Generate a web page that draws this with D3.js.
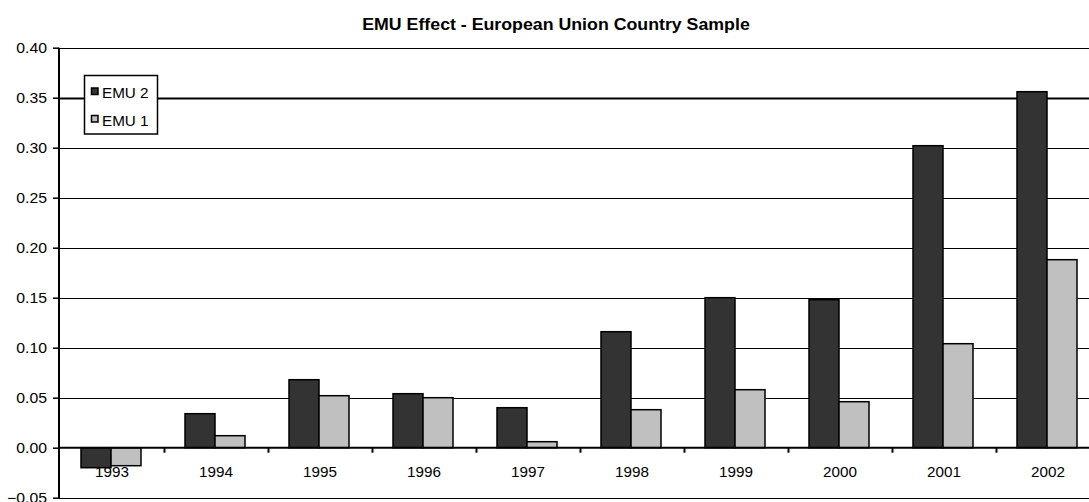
<!DOCTYPE html>
<html><head><meta charset="utf-8">
<script src="https://cdn.jsdelivr.net/npm/d3@7"></script>
<style>body{margin:0;background:#fff}svg{display:block}text{font-family:"Liberation Sans",Arial,sans-serif}</style>
</head><body>
<svg id="c" width="1089" height="502"></svg>
<script>
const categories = ["1993","1994","1995","1996","1997","1998","1999","2000","2001","2002"];
const emu2 = [-0.020,0.034,0.068,0.054,0.040,0.116,0.150,0.148,0.302,0.356];
const emu1 = [-0.018,0.012,0.052,0.050,0.006,0.038,0.058,0.046,0.104,0.188];
const seriesNames = ["EMU 2","EMU 1"];
const seriesColors = ["#333333","#c0c0c0"];
const yTicks = [-0.05,0,0.05,0.10,0.15,0.20,0.25,0.30,0.35,0.40];
const title = "EMU Effect - European Union Country Sample";

const svg = d3.select("#c");
const x0 = 59, x1 = 1099;
const x = d3.scaleBand().domain(categories).range([x0, x1]).paddingInner(0).paddingOuter(0);
const y = d3.scaleLinear().domain([-0.05,0.40]).range([497.7,47.7]);
const SX = 1.09;

// gridlines
svg.append("g").selectAll("line").data(yTicks.filter(d=>d!==0)).join("line")
  .attr("x1",x0).attr("x2",1089)
  .attr("y1",d=>Math.round(y(d))+0.5).attr("y2",d=>Math.round(y(d))+0.5)
  .attr("stroke","#000").attr("stroke-width",d=>Math.abs(d-0.35)<1e-9?2:1);

// bars
const bw = 30;
[emu2, emu1].forEach((vals,si)=>{
  svg.append("g").selectAll("rect").data(vals).join("rect")
    .attr("x",(d,i)=>x(categories[i]) + x.bandwidth()/2 - bw + si*bw)
    .attr("width",bw)
    .attr("y",d=>Math.min(y(d),y(0)))
    .attr("height",d=>Math.abs(y(d)-y(0)))
    .attr("fill",seriesColors[si]).attr("stroke","#000").attr("stroke-width",1.5);
});

// x axis at zero
svg.append("line").attr("x1",x0).attr("x2",1089).attr("y1",y(0)).attr("y2",y(0)).attr("stroke","#000").attr("stroke-width",2);
svg.append("g").selectAll("line").data(categories.slice(1)).join("line")
  .attr("x1",d=>x(d)+1.5).attr("x2",d=>x(d)+1.5).attr("y1",y(0)).attr("y2",y(0)+5)
  .attr("stroke","#000").attr("stroke-width",2);
svg.append("g").selectAll("text").data(categories).join("text")
  .attr("transform",d=>`translate(${x(d)+x.bandwidth()/2+1},477) scale(${SX},1)`)
  .attr("text-anchor","middle").attr("font-size",14).attr("fill","#000").text(d=>d);

// y axis
const yAxis = d3.axisLeft(y).tickValues(yTicks).tickFormat("").tickSize(6);
const ga = svg.append("g").attr("transform",`translate(${x0},0)`).call(yAxis);
ga.select(".domain").attr("stroke-width",2).attr("d",`M0,${y(0.40)}V${y(-0.05)+0.5}`);
ga.selectAll(".tick line").attr("stroke-width",1.5);
svg.append("g").selectAll("text").data(yTicks).join("text")
  .attr("transform",d=>`translate(47,${y(d)+5.3}) scale(${SX},1)`)
  .attr("text-anchor","end").attr("font-size",14.5).attr("fill","#000").text(d=>d3.format(".2f")(d));

// title
svg.append("text").attr("transform",`translate(556,30) scale(1.11,1)`).attr("text-anchor","middle")
  .attr("font-size",16).attr("font-weight","bold").attr("fill","#000").text(title);

// legend
const lg = svg.append("g");
lg.append("rect").attr("x",84.5).attr("y",75.5).attr("width",73).attr("height",58.5)
  .attr("fill","#fff").attr("stroke","#000").attr("stroke-width",1.5);
seriesNames.forEach((n,i)=>{
  lg.append("rect").attr("x",91.5).attr("y",88+i*27.5).attr("width",6.5).attr("height",6.5)
    .attr("fill",seriesColors[i]).attr("stroke","#000").attr("stroke-width",1.5);
  lg.append("text").attr("transform",`translate(102,${97.5+i*28}) scale(${SX},1)`)
    .attr("font-size",14).attr("fill","#000").text(n);
});
</script>
</body></html>
